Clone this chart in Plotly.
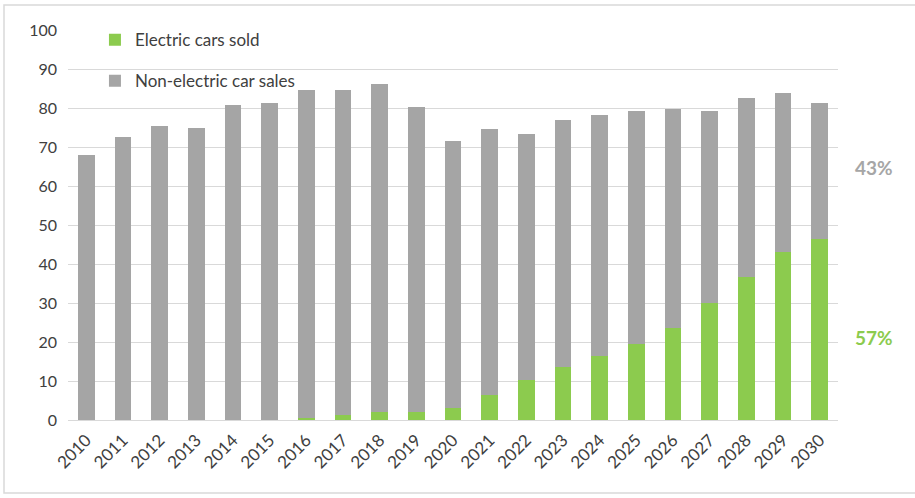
import plotly.graph_objects as go

years = [str(y) for y in range(2010, 2031)]
total_sales = [67.9, 72.6, 75.4, 74.9, 80.8, 81.3, 84.6, 84.6, 86.2, 80.3, 71.5,
               74.6, 73.3, 76.9, 78.2, 79.2, 79.7, 79.2, 82.6, 83.8, 81.3]
electric_sold = [0, 0, 0, 0, 0, 0, 0.5, 1.2, 2.0, 2.0, 3.0,
                 6.4, 10.3, 13.6, 16.5, 19.5, 23.6, 30.0, 36.7, 43.2, 46.3]
non_electric = [round(t - e, 1) for t, e in zip(total_sales, electric_sold)]

GREEN = "#8CCB4E"
GREY = "#A5A5A5"
FONT = "Lato, Carlito, 'Open Sans', sans-serif"

share_elec = round(100 * electric_sold[-1] / total_sales[-1])
share_non = 100 - share_elec

fig = go.Figure()
fig.add_trace(go.Bar(x=years, y=electric_sold, name="Electric cars sold",
                     marker=dict(color=GREEN, line=dict(width=0)),
                     legendgroup="e"))
fig.add_trace(go.Bar(x=years, y=non_electric, name="Non-electric car sales",
                     marker=dict(color=GREY, line=dict(width=0)),
                     legendgroup="n"))

# share labels beside the final bar
fig.add_annotation(x=1.02, xref="paper", xanchor="left",
                   y=electric_sold[-1] + non_electric[-1] / 2 + 1, yref="y",
                   text=f"<b>{share_non}%</b>", showarrow=False,
                   font=dict(family=FONT, size=19, color="#A6A6A6"))
fig.add_annotation(x=1.02, xref="paper", xanchor="left",
                   y=electric_sold[-1] / 2 - 2, yref="y",
                   text=f"<b>{share_elec}%</b>", showarrow=False,
                   font=dict(family=FONT, size=19, color=GREEN))

# outer frame
fig.add_shape(type="rect", xref="paper", yref="paper",
              x0=-64 / 770, x1=(915 - 68) / 770 + 0.01,
              y0=-(493 - 420) / 390, y1=1 + (30 - 5) / 390,
              line=dict(color="#D9D9D9", width=1.5), fillcolor="rgba(0,0,0,0)")

fig.update_layout(
    width=915, height=498,
    margin=dict(l=68, r=77, t=30, b=78),
    barmode="stack", bargap=0.54,
    plot_bgcolor="white", paper_bgcolor="white",
    font=dict(family=FONT, size=15, color="#404040"),
    legend=dict(x=0.035, y=1.02, xanchor="left", yanchor="top",
                traceorder="grouped", tracegroupgap=16,
                bgcolor="rgba(255,255,255,0)",
                font=dict(family=FONT, size=17, color="#404040"),
                itemwidth=30),
    xaxis=dict(tickangle=-45, showgrid=False, showline=False, ticks="",
               ticklabelstandoff=6,
               tickfont=dict(size=17, color="#404040")),
    yaxis=dict(range=[0, 100], dtick=10, showgrid=True, gridcolor="#D9D9D9",
               gridwidth=1, zeroline=True, zerolinecolor="#D9D9D9", zerolinewidth=1,
               ticks="", ticklabelstandoff=10,
               tickfont=dict(size=16, color="#404040")),
)

fig.write_html("out.html")
